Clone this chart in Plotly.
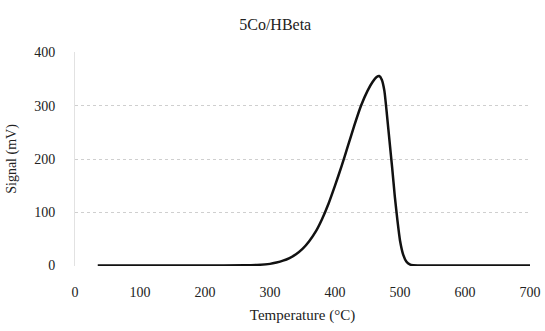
import plotly.graph_objects as go

temperature = [35, 100, 200, 260, 280, 300, 310, 320, 330, 340, 350, 360, 370, 380, 390,
               400, 410, 420, 430, 440, 450, 458, 464, 468, 472, 476, 480, 484, 488, 492,
               496, 500, 505, 510, 515, 520, 550, 600, 650, 700]
signal = [0, 0, 0, 0.3, 1, 3, 5.5, 9, 14, 21, 31, 45, 63, 87, 116,
          150, 186, 225, 264, 300, 328, 345, 354, 356, 349, 328, 282, 232, 183, 130,
          85, 47, 20, 7, 2, 0.5, 0, 0, 0, 0]

x_ticks = [0, 100, 200, 300, 400, 500, 600, 700]
y_ticks = [0, 100, 200, 300, 400]

font_family = "Liberation Serif, Times New Roman, serif"

fig = go.Figure()
fig.add_trace(go.Scatter(
    x=temperature, y=signal, mode="lines",
    line=dict(color="#111111", width=2.5, shape="spline", smoothing=0.5),
    showlegend=False, hoverinfo="skip",
))

fig.update_layout(
    width=545, height=331,
    margin=dict(l=75, r=15, t=52, b=65),
    paper_bgcolor="white", plot_bgcolor="white",
    font=dict(family=font_family, size=14, color="#222222"),
    title=dict(text="5Co/HBeta", x=0.505, xanchor="center", y=0.925, yanchor="middle",
               font=dict(family=font_family, size=16, color="#222222")),
    xaxis=dict(
        range=[0, 700], tickvals=x_ticks, showgrid=False, zeroline=False,
        showline=False, ticks="", ticklabelstandoff=16, automargin=False,
        title=dict(text="Temperature (°C)", standoff=10,
                   font=dict(family=font_family, size=15)),
        tickfont=dict(family=font_family, size=14, color="#222222"),
    ),
    yaxis=dict(
        range=[-1, 401], tickvals=y_ticks, showgrid=True,
        gridcolor="#cfcfcf", griddash="dot", gridwidth=1,
        zeroline=False, showline=True, linecolor="#e2e2e2", linewidth=1,
        ticks="", ticklabelstandoff=16, automargin=False,
        title=dict(text="Signal (mV)", standoff=14,
                   font=dict(family=font_family, size=14)),
        tickfont=dict(family=font_family, size=14, color="#222222"),
    ),
)

fig.write_html("out.html")
